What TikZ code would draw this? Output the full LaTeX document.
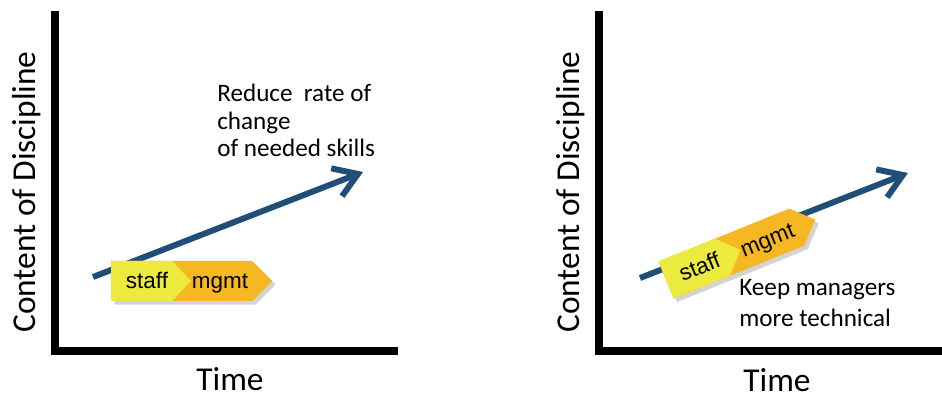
\documentclass[tikz,border=0pt]{standalone}
\usepackage{fontspec}
\setmainfont{Carlito}
\newfontfamily\arialfont{Liberation Sans}
\usetikzlibrary{arrows.meta,shadows}

\definecolor{staffyellow}{HTML}{ECEA3E}
\definecolor{mgmtorange}{HTML}{F5B822}
\definecolor{trendblue}{HTML}{1F4E79}

\tikzset{
  axis/.style={line width=4pt},
  trend/.style={trendblue, line width=3.4pt, -{Straight Barb[length=13pt,width=17pt]}},
  axislabel/.style={font=\fontsize{19}{23}\selectfont, inner sep=1pt},
  note/.style={font=\fontsize{14.3}{15.6}\selectfont, align=left, inner sep=0pt, anchor=north west},
  roletext/.style={font=\arialfont\fontsize{12.8}{15}\selectfont, transform shape, inner sep=0pt, anchor=base},
  roleblock/.pic={
    \fill[mgmtorange, drop shadow={shadow xshift=2pt, shadow yshift=-2pt, opacity=0.35}]
      (0,-20) -- (141,-20) -- (161,0) -- (141,20) -- (0,20) -- cycle;
    \fill[staffyellow] (0,-20) -- (61,-20) -- (80,0) -- (61,20) -- (0,20) -- cycle;
    \node[roletext] (-staff) at (36,8) {staff};
    \node[roletext] (-mgmt) at (109,8) {mgmt};
  }
}

\begin{document}
\begin{tikzpicture}[x=0.02cm, y=-0.02cm]
  \useasboundingbox (0,0) rectangle (942,394);

  % left chart
  \coordinate (Ltop) at (55,11);
  \coordinate (Lorig) at (55,351);
  \coordinate (Lright) at (398,351);
  \draw[axis] (Ltop) -- (Lorig) -- (Lright);
  \node[axislabel, rotate=90] (Lylab) at (27,192) {Content of Discipline};
  \node[axislabel] (Lxlab) at (230,379) {Time};

  \coordinate (Lstart) at (93,277);
  \coordinate (Ltip) at (363,172);
  \draw[trend] (Lstart) -- (Ltip);
  \pic (L) at (111,281) {roleblock};
  \node[note] (Lnote) at (217,84) {Reduce\ \ rate of\\change\\of needed skills};

  % right chart
  \coordinate (Rtop) at (599,11);
  \coordinate (Rorig) at (599,351);
  \coordinate (Rright) at (942,351);
  \draw[axis] (Rtop) -- (Rorig) -- (Rright);
  \node[axislabel, rotate=90] (Rylab) at (571,192) {Content of Discipline};
  \node[axislabel] (Rxlab) at (777,380) {Time};

  \coordinate (Rstart) at (640,278);
  \coordinate (Rtip) at (908,173);
  \draw[trend] (Rstart) -- (Rtip);
  \pic[rotate=22] (R) at (666,280) {roleblock};
  \node[note, font=\fontsize{14.3}{17.6}\selectfont] (Rnote) at (739,279) {Keep managers\\more technical};
\end{tikzpicture}
\end{document}
